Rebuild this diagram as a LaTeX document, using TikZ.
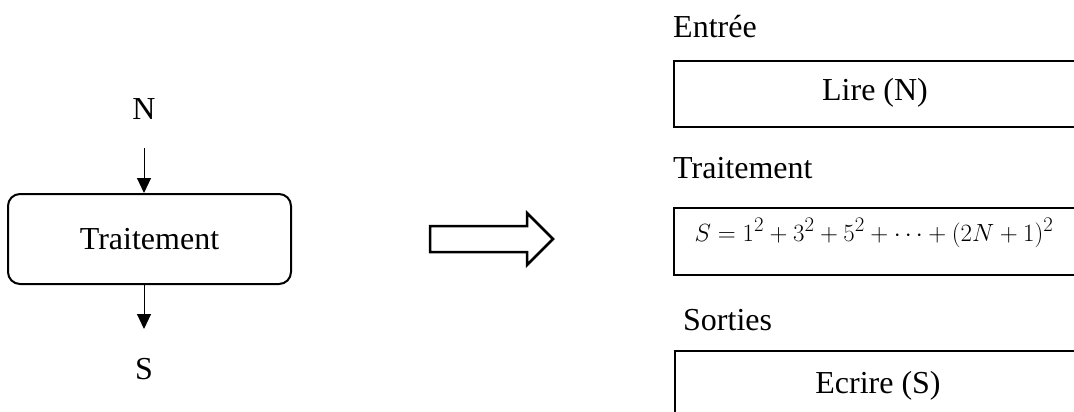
\documentclass[tikz,border=0pt]{standalone}
\usepackage{fontspec}
\setmainfont{Liberation Serif}
\usetikzlibrary{arrows.meta}
\begin{document}
\begin{tikzpicture}[x=1pt,y=-1pt,
  font=\fontsize{32}{38}\selectfont,
  lbl/.style={inner sep=0pt, anchor=base west},
  txt/.style={inner sep=0pt, anchor=base},
  rbox/.style={draw, line width=2pt, anchor=north west, minimum width=450pt, inner sep=0pt},
  arr/.style={-{Triangle[length=15pt,width=14pt]}, line width=1pt}]
\clip (0,0) rectangle (1074,412);
% left part
\node[txt] (n) at (144,119) {N};
\node[draw, line width=2pt, rounded corners=12pt, minimum width=283pt,
      minimum height=90pt, inner sep=0pt] (proc) at (149.5,239) {Traitement};
\coordinate (a1) at (144,148);
\coordinate (a2) at (144,329);
\draw[arr] (a1) -- (a1 |- proc.north);
\draw[arr] (a2 |- proc.south) -- (a2);
\node[txt] (s) at (144,379) {S};
% block arrow
\draw[line width=2.5pt, line join=miter]
  (430,226) -- (527,226) -- (527,213) -- (553,239) -- (527,265) -- (527,252) -- (430,252) -- cycle;
% right part
\node[lbl] (le) at (673,38) {Entrée};
\node[rbox, minimum height=66pt] (b1) at (673,60) {};
\node[txt] (t1) at (875,100) {Lire (N)};
\node[lbl] (lt) at (673,178) {Traitement};
\node[rbox, minimum height=67pt] (b2) at (673,207) {};
\node[txt, font=\fontsize{31}{37}\selectfont] (t2) at (874,241) {$S=1^2+3^2+5^2+\cdots+(2N+1)^2$};
\node[lbl] (ls) at (683,330) {Sorties};
\node[rbox, minimum height=100pt] (b3) at (674,350) {};
\node[txt] (t3) at (878,393) {Ecrire (S)};
\end{tikzpicture}
\end{document}
